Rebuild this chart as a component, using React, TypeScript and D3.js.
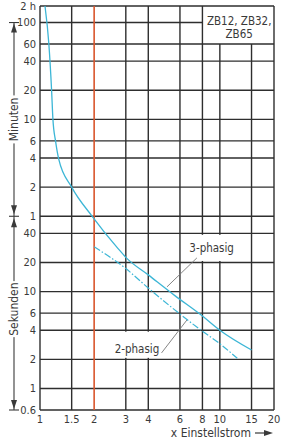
import React from "react";
import * as d3 from "d3";

// x axis: multiple of the set current
const xTicks = [1, 1.5, 2, 3, 4, 6, 8, 10, 15, 20];
const xTickLabels = ["1", "1.5", "2", "3", "4", "6", "8", "10", "15", "20"];

// y axis: tripping time in seconds (top edge of the printed scale is labelled "2 h")
const TIME_TOP = 8890;
const yTicks = [TIME_TOP, 6000, 3600, 2400, 1200, 600, 360, 240, 120, 60, 40, 20, 10, 6, 4, 2, 1, 0.6];
const yTickLabels = ["2 h", "100", "60", "40", "20", "10", "6", "4", "2", "1", "40", "20", "10", "6", "4", "2", "1", "0.6"];

// 3-phase tripping curve
const threePhaseX = [1.066, 1.12, 1.16, 1.18, 1.22, 1.27, 1.5, 1.95, 2.71, 3, 4, 5.62, 8, 10, 15];
const threePhaseT = [8890, 3600, 1200, 600, 360, 235, 120, 60, 28, 22.6, 14.9, 9.1, 5.6, 4, 2.5];

// 2-phase tripping curve
const twoPhaseX = [2, 3, 4, 5.28, 8, 10, 12.5];
const twoPhaseT = [29, 17.3, 10.9, 7.1, 3.9, 2.9, 2.05];

const W = 289;
const H = 441;
const FONT = "'Liberation Sans Narrow', 'DejaVu Sans Condensed', 'Liberation Sans', sans-serif";
const GRID = "#2e2e2e";
const TEXT = "#3a3a3a";
const CYAN = "#3cb6d6";

const App: React.FC = () => {
  const x = d3.scaleLog().domain([1, 20]).range([40, 274]);
  const y = d3.scaleLog().domain([0.6, TIME_TOP]).range([410, 6]);

  const line = d3
    .line<[number, number]>()
    .x((d) => x(d[0]))
    .y((d) => y(d[1]))
    .curve(d3.curveMonotoneX);

  const threePts = threePhaseX.map((v, i) => [v, threePhaseT[i]] as [number, number]);
  const twoPts = twoPhaseX.map((v, i) => [v, twoPhaseT[i]] as [number, number]);

  const x0 = x(1);
  const x1 = x(20);
  const yTop = y(TIME_TOP);
  const yBot = y(0.6);

  // range brackets on the left
  const arrowX = 14;
  const yMinTop = y(6000);
  const yMinSec = y(60);
  const head = (tipY: number, dir: number) =>
    `M${arrowX},${tipY} L${arrowX - 3},${tipY - dir * 9} L${arrowX + 3},${tipY - dir * 9} Z`;

  return (
    <svg
      width={W}
      height={H}
      style={{ position: "absolute", left: 0, top: 0, background: "#fff" }}
      fontFamily={FONT}
    >
      {/* horizontal grid */}
      {yTicks.map((t, i) => (
        <line
          key={"h" + i}
          x1={x0}
          x2={t > 3600 && t < TIME_TOP ? x(8) : x1}
          y1={y(t)}
          y2={y(t)}
          stroke={GRID}
          strokeWidth={1.4}
        />
      ))}
      {/* vertical grid */}
      {xTicks.map((v, i) => (
        <line
          key={"v" + i}
          x1={x(v)}
          x2={x(v)}
          y1={v === 10 || v === 15 ? y(3600) : yTop}
          y2={yBot}
          stroke={v === 2 ? "#d9562c" : GRID}
          strokeWidth={v === 2 ? 1.6 : 1.4}
        />
      ))}

      {/* device label */}
      <text x={(x(8) + x(20)) / 2 + 1} y={21} dy="0.35em" textAnchor="middle" fontSize={11.5} fill={TEXT}>
        ZB12, ZB32,
      </text>
      <text x={(x(8) + x(20)) / 2 + 1} y={34} dy="0.35em" textAnchor="middle" fontSize={11.5} fill={TEXT}>
        ZB65
      </text>

      {/* curves */}
      <path d={line(threePts) || ""} fill="none" stroke={CYAN} strokeWidth={1.3} />
      <path
        d={line(twoPts) || ""}
        fill="none"
        stroke={CYAN}
        strokeWidth={1.2}
        strokeDasharray="7,2,1.5,2"
      />

      {/* 3-phasig label */}
      <rect
        x={x(6) + 1.5}
        y={y(40) + 1.5}
        width={x(12.9) - x(6) - 1.5}
        height={y(20) - y(40) - 3}
        fill="#fff"
      />
      <text x={x(9)} y={y(28.2)} dy="0.35em" textAnchor="middle" fontSize={11.5} fill={TEXT}>
        3-phasig
      </text>
      <line x1={x(7.45)} y1={y(22.3)} x2={x(5.08)} y2={y(11.2)} stroke="#777" strokeWidth={0.9} />

      {/* 2-phasig label */}
      <rect
        x={x(2.39)}
        y={y(4) + 1.5}
        width={x(4.95) - x(2.39)}
        height={y(2) - y(4) - 3}
        fill="#fff"
      />
      <text x={x(3.46)} y={y(2.56)} dy="0.35em" textAnchor="middle" fontSize={11.5} fill={TEXT}>
        2-phasig
      </text>
      <line x1={x(4.74)} y1={y(2.33)} x2={x(6.56)} y2={y(5.1)} stroke="#777" strokeWidth={0.9} />

      {/* y tick labels */}
      {yTicks.map((t, i) => (
        <text
          key={"yl" + i}
          x={36}
          y={y(t)}
          dy="0.35em"
          textAnchor="end"
          fontSize={11}
          fill={TEXT}
        >
          {yTickLabels[i]}
        </text>
      ))}

      {/* x tick labels */}
      {xTicks.map((v, i) => (
        <text
          key={"xl" + i}
          x={x(v)}
          y={419}
          dy="0.35em"
          textAnchor="middle"
          fontSize={11}
          fill={TEXT}
        >
          {xTickLabels[i]}
        </text>
      ))}

      {/* x axis title */}
      <text x={251} y={433} dy="0.35em" textAnchor="end" fontSize={12} fill={TEXT}>
        x Einstellstrom
      </text>
      <line x1={255} x2={268} y1={433} y2={433} stroke={TEXT} strokeWidth={1.2} />
      <path d="M273,433 L264,430 L264,436 Z" fill={TEXT} />

      {/* left range brackets */}
      <g stroke={TEXT} strokeWidth={1.1}>
        <line x1={arrowX} x2={arrowX} y1={yMinTop} y2={yBot} />
        <line x1={arrowX - 5} x2={arrowX + 5} y1={yMinTop} y2={yMinTop} />
        <line x1={arrowX - 5} x2={arrowX + 5} y1={yMinSec} y2={yMinSec} />
        <line x1={arrowX - 5} x2={arrowX + 5} y1={yBot} y2={yBot} />
      </g>
      <g fill={TEXT}>
        <path d={head(yMinTop + 1, -1)} />
        <path d={head(yMinSec - 2, 1)} />
        <path d={head(yMinSec + 2, -1)} />
        <path d={head(yBot - 1, 1)} />
      </g>
      <rect x={arrowX - 6} y={(yMinTop + yMinSec) / 2 - 24} width={12} height={48} fill="#fff" />
      <text
        transform={`translate(${arrowX},${(yMinTop + yMinSec) / 2}) rotate(-90)`}
        dy="0.35em"
        textAnchor="middle"
        fontSize={12}
        fill={TEXT}
      >
        Minuten
      </text>
      <rect x={arrowX - 6} y={(yMinSec + yBot) / 2 - 32} width={12} height={56} fill="#fff" />
      <text
        transform={`translate(${arrowX},${(yMinSec + yBot) / 2 - 4}) rotate(-90)`}
        dy="0.35em"
        textAnchor="middle"
        fontSize={12}
        fill={TEXT}
      >
        Sekunden
      </text>
    </svg>
  );
};

export default App;
